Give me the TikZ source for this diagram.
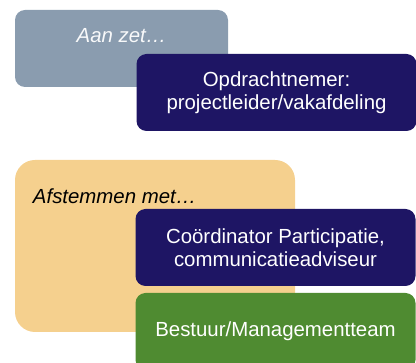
\documentclass[tikz,border=0pt]{standalone}
\usepackage{fontspec}
\setmainfont{Liberation Sans}
\usetikzlibrary{calc}

\definecolor{zetgrey}{HTML}{8A9CAF}
\definecolor{navyblue}{HTML}{1E1564}
\definecolor{sandtan}{HTML}{F5D08E}
\definecolor{teamgreen}{HTML}{4F8B31}

\tikzset{
  panel/.style={rounded corners=10pt, inner sep=0pt, align=center, text=white,
    minimum width=280pt, minimum height=77pt,
    font=\fontsize{20.4}{23.5}\selectfont},
  heading/.style={inner sep=0pt, font=\fontsize{20.4}{23.5}\selectfont\itshape}
}

\begin{document}
\begin{tikzpicture}[x=1pt, y=-1pt]
\useasboundingbox (0,0) rectangle (416,363);
\begin{scope}
\clip (0,0) rectangle (416,363);
% Aan zet
\node (aanzet) [panel, fill=zetgrey, minimum width=213pt] at (121.5,48.5) {};
\node (aanzettext) [heading, anchor=base, text=white!94!zetgrey] at ($(aanzet.north)+(0,33)$) {Aan zet…};
\node (opdracht) [panel, fill=navyblue] at (276.5,92.5) {Opdrachtnemer:\\projectleider/vakafdeling};
% Afstemmen met
\node (afstemmen) [panel, fill=sandtan, rounded corners=20pt, minimum height=172pt] at (155,246) {};
\node (afstemmentext) [heading, anchor=base west, text=black] at ($(afstemmen.north west)+(18,44)$) {Afstemmen met…};
\node (coordinator) [panel, fill=navyblue] at (275.5,247.5) {Coördinator Participatie,\\communicatieadviseur};
\node (bestuur) [panel, fill=teamgreen] at (275.5,331.5) {Bestuur/Managementteam};
\end{scope}
\end{tikzpicture}
\end{document}
